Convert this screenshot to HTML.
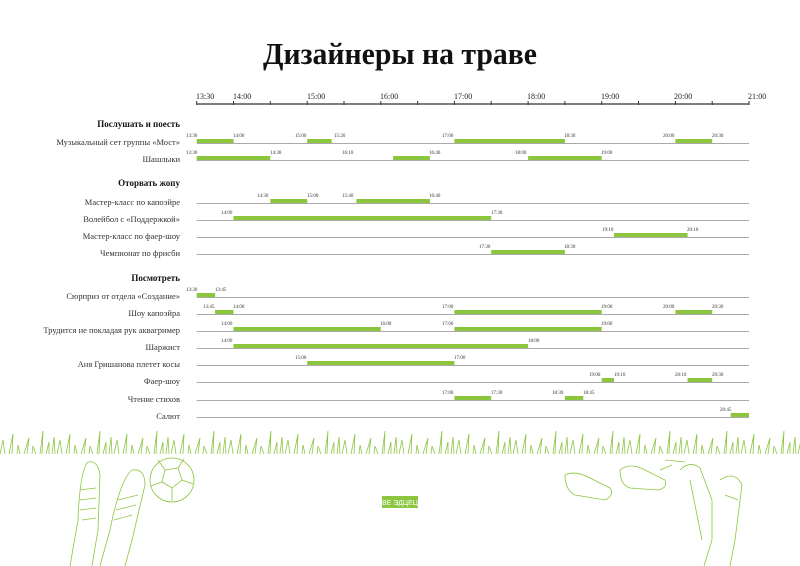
<!DOCTYPE html>
<html><head><meta charset="utf-8"><style>
html,body{margin:0;padding:0;background:#fff;}
svg{display:block;}
.t{font-family:"Liberation Serif",serif;}
.lab{font-family:"Liberation Serif",serif;font-size:8.5px;fill:#333;text-anchor:end;}
.sec{font-family:"Liberation Serif",serif;font-size:9px;font-weight:bold;fill:#111;text-anchor:end;}
.tk{font-family:"Liberation Serif",serif;font-size:8px;fill:#222;}
.sm{font-family:"Liberation Serif",serif;font-size:5px;fill:#333;}
.ln{stroke:#aaa;stroke-width:1;}
.br{fill:#8cc63f;}
</style></head><body>
<svg width="800" height="566" viewBox="0 0 800 566">
<defs>
<pattern id="grass" x="0" y="428" width="57" height="28" patternUnits="userSpaceOnUse">
<path d="M0 26 L3 12 L5 26 M9 26 L13 6 L12 26 M17 26 L18 17 L20 26 M24 26 L29 10 L27 26 M32 26 L33 18 L36 26 M40 26 L43 3 L42 26 M46 26 L49 14 L49 26 M52 26 L54 9 L55 26" fill="none" stroke="#8cc63f" stroke-width="0.8"/>
</pattern>
</defs>
<text x="400" y="64" class="t" font-size="31" font-weight="bold" text-anchor="middle" fill="#111" textLength="274" lengthAdjust="spacingAndGlyphs">Дизайнеры на траве</text>

<line x1="196.7" y1="104" x2="749" y2="104" stroke="#555" stroke-width="1.5"/>
<g stroke="#333" stroke-width="1">
<line x1="196.7" y1="101" x2="196.7" y2="105"/><line x1="233.5" y1="101" x2="233.5" y2="105"/><line x1="270.3" y1="101" x2="270.3" y2="105"/><line x1="307.2" y1="101" x2="307.2" y2="105"/><line x1="344" y1="101" x2="344" y2="105"/><line x1="380.8" y1="101" x2="380.8" y2="105"/><line x1="417.6" y1="101" x2="417.6" y2="105"/><line x1="454.4" y1="101" x2="454.4" y2="105"/><line x1="491.2" y1="101" x2="491.2" y2="105"/><line x1="528.1" y1="101" x2="528.1" y2="105"/><line x1="564.9" y1="101" x2="564.9" y2="105"/><line x1="601.7" y1="101" x2="601.7" y2="105"/><line x1="638.5" y1="101" x2="638.5" y2="105"/><line x1="675.4" y1="101" x2="675.4" y2="105"/><line x1="712.2" y1="101" x2="712.2" y2="105"/><line x1="749" y1="101" x2="749" y2="105"/>
</g>
<g class="tk">
<text x="196" y="99">13:30</text><text x="233" y="99">14:00</text><text x="307" y="99">15:00</text><text x="380" y="99">16:00</text><text x="454" y="99">17:00</text><text x="527" y="99">18:00</text><text x="601" y="99">19:00</text><text x="674" y="99">20:00</text><text x="748" y="99">21:00</text>
</g>

<text x="180" y="127" class="sec">Послушать и поесть</text>
<text x="180" y="186" class="sec">Оторвать жопу</text>
<text x="180" y="281" class="sec">Посмотреть</text>

<g class="lab">
<text x="180" y="145">Музыкальный сет группы «Мост»</text>
<text x="180" y="162">Шашлыки</text>
<text x="180" y="205">Мастер-класс по капоэйре</text>
<text x="180" y="222">Волейбол с «Поддержкой»</text>
<text x="180" y="239">Мастер-класс по фаер-шоу</text>
<text x="180" y="256">Чемпионат по фрисби</text>
<text x="180" y="299">Сюрприз от отдела «Создание»</text>
<text x="180" y="316">Шоу капоэйра</text>
<text x="180" y="333">Трудится не покладая рук аквагример</text>
<text x="180" y="350">Шаржист</text>
<text x="180" y="367">Аня Гришанова плетет косы</text>
<text x="180" y="384">Фаер-шоу</text>
<text x="180" y="402">Чтение стихов</text>
<text x="180" y="419">Салют</text>
</g>

<g class="ln">
<line x1="196.7" y1="143.5" x2="749" y2="143.5"/><line x1="196.7" y1="160.5" x2="749" y2="160.5"/>
<line x1="196.7" y1="203.5" x2="749" y2="203.5"/><line x1="196.7" y1="220.5" x2="749" y2="220.5"/>
<line x1="196.7" y1="237.5" x2="749" y2="237.5"/><line x1="196.7" y1="254.5" x2="749" y2="254.5"/>
<line x1="196.7" y1="297.5" x2="749" y2="297.5"/><line x1="196.7" y1="314.5" x2="749" y2="314.5"/>
<line x1="196.7" y1="331.5" x2="749" y2="331.5"/><line x1="196.7" y1="348.5" x2="749" y2="348.5"/>
<line x1="196.7" y1="365.5" x2="749" y2="365.5"/><line x1="196.7" y1="382.5" x2="749" y2="382.5"/>
<line x1="196.7" y1="400.5" x2="749" y2="400.5"/><line x1="196.7" y1="417.5" x2="749" y2="417.5"/>
</g>

<g class="br">
<rect x="196.7" y="139" width="36.8" height="4"/><rect x="307.2" y="139" width="24.5" height="4"/><rect x="454.4" y="139" width="110.5" height="4"/><rect x="675.4" y="139" width="36.8" height="4"/>
<rect x="196.7" y="156" width="73.6" height="4"/><rect x="393.1" y="156" width="36.8" height="4"/><rect x="528.1" y="156" width="73.6" height="4"/>
<rect x="270.3" y="199" width="36.9" height="4"/><rect x="356.3" y="199" width="73.6" height="4"/>
<rect x="233.5" y="216" width="257.7" height="4"/>
<rect x="614" y="233" width="73.6" height="4"/>
<rect x="491.2" y="250" width="73.7" height="4"/>
<rect x="196.7" y="293" width="18.4" height="4"/>
<rect x="215.1" y="310" width="18.4" height="4"/><rect x="454.4" y="310" width="147.3" height="4"/><rect x="675.4" y="310" width="36.8" height="4"/>
<rect x="233.5" y="327" width="147.3" height="4"/><rect x="454.4" y="327" width="147.3" height="4"/>
<rect x="233.5" y="344" width="294.6" height="4"/>
<rect x="307.2" y="361" width="147.2" height="4"/>
<rect x="601.7" y="378" width="12.3" height="4"/><rect x="687.6" y="378" width="24.6" height="4"/>
<rect x="454.4" y="396" width="36.8" height="4"/><rect x="564.9" y="396" width="18.4" height="4"/>
<rect x="730.6" y="413" width="18.4" height="4"/>
</g>

<g class="sm">
<text x="186" y="137">13:30</text><text x="233" y="137">14:00</text><text x="295" y="137">15:00</text><text x="334" y="137">15:20</text><text x="442" y="137">17:00</text><text x="564" y="137">18:30</text><text x="663" y="137">20:00</text><text x="712" y="137">20:30</text>
<text x="186" y="154">13:30</text><text x="270" y="154">14:30</text><text x="342" y="154">16:10</text><text x="429" y="154">16:40</text><text x="515" y="154">18:00</text><text x="601" y="154">19:00</text>
<text x="257" y="197">14:30</text><text x="307" y="197">15:00</text><text x="342" y="197">15:40</text><text x="429" y="197">16:40</text>
<text x="221" y="214">14:00</text><text x="491" y="214">17:30</text>
<text x="602" y="231">19:10</text><text x="687" y="231">20:10</text>
<text x="479" y="248">17:30</text><text x="564" y="248">18:30</text>
<text x="186" y="291">13:30</text><text x="215" y="291">13:45</text>
<text x="203" y="308">13:45</text><text x="233" y="308">14:00</text><text x="442" y="308">17:00</text><text x="601" y="308">19:00</text><text x="663" y="308">20:00</text><text x="712" y="308">20:30</text>
<text x="221" y="325">14:00</text><text x="380" y="325">16:00</text><text x="442" y="325">17:00</text><text x="601" y="325">19:00</text>
<text x="221" y="342">14:00</text><text x="528" y="342">18:00</text>
<text x="295" y="359">15:00</text><text x="454" y="359">17:00</text>
<text x="589" y="376">19:00</text><text x="614" y="376">19:10</text><text x="675" y="376">20:10</text><text x="712" y="376">20:30</text>
<text x="442" y="394">17:00</text><text x="491" y="394">17:30</text><text x="552" y="394">18:30</text><text x="583" y="394">18:45</text>
<text x="720" y="411">20:45</text>
</g>

<rect x="0" y="428" width="800" height="28" fill="url(#grass)"/>

<g fill="none" stroke="#8cc63f" stroke-width="0.8">
<path d="M70 566 L78 520 Q80 470 88 462 Q98 460 100 475 L98 530 L92 566"/>
<path d="M80 490 L96 488 M80 500 L96 498 M80 510 L96 508 M82 520 L96 518"/>
<path d="M100 566 L110 530 Q120 480 132 470 Q145 468 145 485 L132 540 L125 566"/>
<path d="M118 500 L138 495 M116 510 L136 505 M114 520 L132 515"/>
<circle cx="172" cy="480" r="22"/>
<path d="M165 470 L178 468 L182 480 L172 488 L162 482 Z M165 470 L158 460 M178 468 L184 459 M182 480 L193 484 M172 488 L172 501 M162 482 L151 486"/>
<path d="M565 475 Q575 470 590 478 L610 488 Q615 495 605 500 L575 495 Q565 490 565 475 Z"/>
<path d="M620 470 Q630 462 645 470 L665 480 Q668 488 658 490 L630 488 Q620 485 620 470 Z"/>
<path d="M680 470 Q690 460 700 468 L712 500 L712 540 L704 566 M690 480 L702 540"/>
<path d="M720 480 Q735 470 742 485 L735 540 L730 566 M725 495 L738 500"/>
<path d="M665 460 L685 462 M660 470 L672 465"/>
</g>
<rect x="382" y="496" width="36" height="12" fill="#8cc63f"/>
<text x="400" y="505" font-family="Liberation Sans,sans-serif" font-size="7" fill="#fff" text-anchor="middle">ВЕ ЭДЦЕЦ</text>
</svg>
</body></html>
